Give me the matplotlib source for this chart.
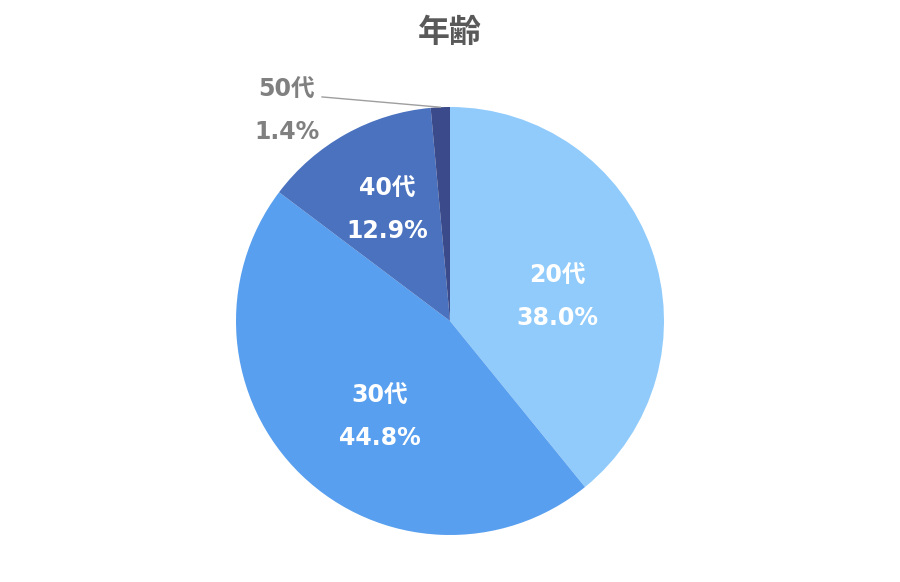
import numpy as np
import matplotlib
matplotlib.use("Agg")
import matplotlib.pyplot as plt

plt.rcParams['font.family'] = ['DejaVu Sans', 'Noto Sans CJK JP']

categories = ["20代", "30代", "40代", "50代"]
values = [38.0, 44.8, 12.9, 1.4]
pct_labels = ["38.0%", "44.8%", "12.9%", "1.4%"]
colors = ["#90CBFB", "#589FEF", "#4A72BF", "#3B4A8A"]
title = "年齢"

fig = plt.figure(figsize=(9, 5.82), dpi=100)
W, H = 900, 582
cx, cy, R = 450, 321, 214
ax = fig.add_axes([(cx - R) / W, (H - cy - R) / H, 2 * R / W, 2 * R / H])

wedges, _ = ax.pie(values, colors=colors, startangle=90, counterclock=False,
                   radius=1, wedgeprops=dict(linewidth=0))
ax.set_xlim(-1, 1)
ax.set_ylim(-1, 1)
ax.axis('off')

inside_r = [0.53, 0.55, 0.60]
nudge_pts = [(0, -10), (8, -8), (0, -1)]
fs = 17
fam = ['DejaVu Sans', 'Noto Sans CJK JP']
for i, w in enumerate(wedges):
    mid = np.deg2rad((w.theta1 + w.theta2) / 2)
    if i < 3:
        r = inside_r[i]
        x, y = r * np.cos(mid), r * np.sin(mid)
        dx, dy = nudge_pts[i]
        ax.annotate(categories[i], (x, y), xytext=(dx, dy + 15), textcoords='offset points',
                    ha='center', va='center', color='white', fontsize=fs, fontweight='bold',
                    family=fam)
        ax.annotate(pct_labels[i], (x, y), xytext=(dx, dy - 15), textcoords='offset points',
                    ha='center', va='center', color='white', fontsize=fs, fontweight='bold',
                    family=fam)
    else:
        x0, y0 = np.cos(mid), np.sin(mid)
        lx, ly = -0.598, 1.047
        ax.plot([x0, lx], [y0, ly], color='#9E9E9E', lw=1, clip_on=False)
        tx, ty = -0.762, 0.982
        ax.annotate(categories[i], (tx, ty), xytext=(0, 15), textcoords='offset points',
                    ha='center', va='center', color='#808080', fontsize=fs, fontweight='bold',
                    family=fam, annotation_clip=False)
        ax.annotate(pct_labels[i], (tx, ty), xytext=(0, -15), textcoords='offset points',
                    ha='center', va='center', color='#808080', fontsize=fs, fontweight='bold',
                    family=fam, annotation_clip=False)

fig.text(0.5, 1 - 33 / H, title, ha='center', va='center', fontsize=23,
         fontweight='bold', color='#595959', family=['Noto Sans CJK JP', 'DejaVu Sans'])

fig.savefig("out.png", dpi=100)
